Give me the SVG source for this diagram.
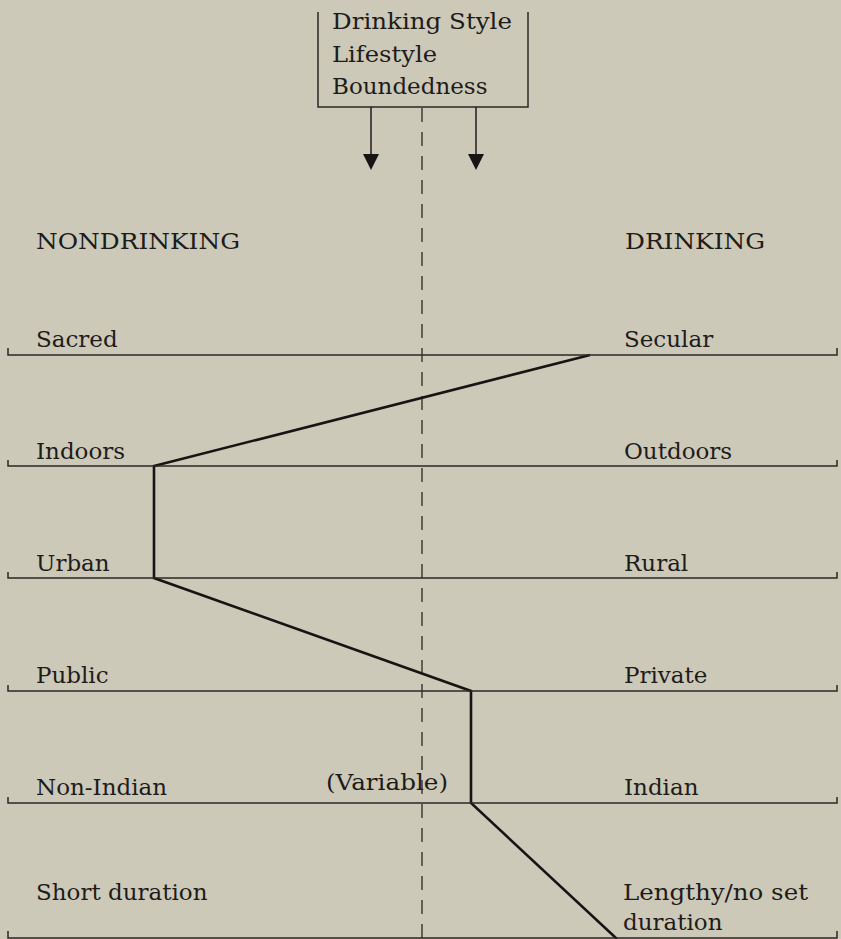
<svg xmlns="http://www.w3.org/2000/svg" width="841" height="939" viewBox="0 0 841 939">
<style>
text{font-family:"DejaVu Serif","Liberation Serif",serif;font-size:23px;fill:#1e1c1a}
.rule{fill:none;stroke:#2b2926;stroke-width:1.5}
.dash{fill:none;stroke:#2b2926;stroke-width:1.3;stroke-dasharray:14 10}
.prof{fill:none;stroke:#161514;stroke-width:2.6;stroke-linejoin:miter}
.arr{fill:none;stroke:#1e1c1a;stroke-width:1.5}
.head{fill:#161514}
</style>
<rect width="841" height="939" fill="#cdc9b9"/>
<g id="header">
<path class="rule" d="M318,12 V107 H528 V12"/>
<text x="332" y="29" textLength="180" lengthAdjust="spacingAndGlyphs">Drinking Style</text>
<text x="332" y="62" textLength="105" lengthAdjust="spacingAndGlyphs">Lifestyle</text>
<text x="332" y="94">Boundedness</text>
</g>
<g id="connectors">
<line class="dash" x1="422" y1="108" x2="422" y2="939"/>
<line class="arr" x1="371" y1="107" x2="371" y2="156"/>
<path class="head" d="M363,154 L379,154 L371,170 Z"/>
<line class="arr" x1="476" y1="107" x2="476" y2="156"/>
<path class="head" d="M468,154 L484,154 L476,170 Z"/>
<polyline class="prof" points="590,355 154,466 154,578 471,691 471,803 617,939"/>
</g>
<g id="headings">
<text x="36" y="249" textLength="204" lengthAdjust="spacingAndGlyphs">NONDRINKING</text>
<text x="625" y="249" textLength="140" lengthAdjust="spacingAndGlyphs">DRINKING</text>
</g>
<g id="row1">
<path class="rule" d="M8,348 V355 H837 V348"/>
<text x="36" y="347">Sacred</text>
<text x="624" y="347">Secular</text>
</g>
<g id="row2">
<path class="rule" d="M8,460 V466 H837 V460"/>
<text x="36" y="459">Indoors</text>
<text x="624" y="459">Outdoors</text>
</g>
<g id="row3">
<path class="rule" d="M8,572 V578 H837 V572"/>
<text x="36" y="571">Urban</text>
<text x="624" y="571">Rural</text>
</g>
<g id="row4">
<path class="rule" d="M8,685 V691 H837 V685"/>
<text x="36" y="683">Public</text>
<text x="624" y="683">Private</text>
</g>
<g id="row5">
<path class="rule" d="M8,797 V803 H837 V797"/>
<text x="36" y="795">Non-Indian</text>
<text x="326" y="790" textLength="122" lengthAdjust="spacingAndGlyphs">(Variable)</text>
<text x="624" y="795">Indian</text>
</g>
<g id="row6">
<path class="rule" d="M8,931 V938 H837 V931"/>
<text x="36" y="900">Short duration</text>
<text x="623" y="900" textLength="185" lengthAdjust="spacingAndGlyphs">Lengthy/no set</text>
<text x="623" y="930">duration</text>
</g>
</svg>
